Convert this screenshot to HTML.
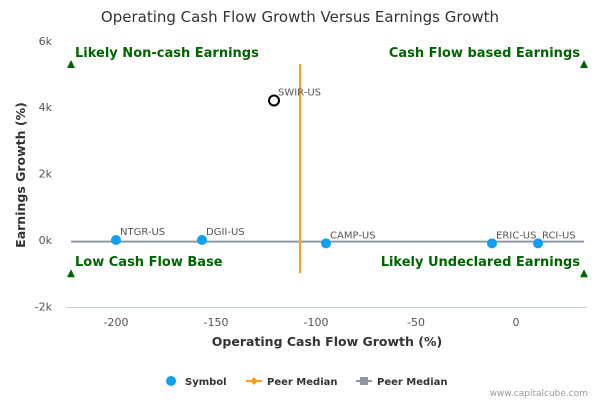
<!DOCTYPE html>
<html><head><meta charset="utf-8"><style>
body{margin:0;background:#fff}
svg{font-family:"DejaVu Sans","Liberation Sans",sans-serif}
</style></head><body>
<svg id="c" width="600" height="400" xmlns="http://www.w3.org/2000/svg">
<text x="300" y="22" text-anchor="middle" font-size="15" fill="#333">Operating Cash Flow Growth Versus Earnings Growth</text>
<line x1="67" y1="307.5" x2="587" y2="307.5" stroke="#c0d0e0"/>
<g id="xt"></g><g id="yt"></g>
<text x="327" y="346" text-anchor="middle" font-size="12.5" font-weight="bold" fill="#333">Operating Cash Flow Growth (%)</text>
<text transform="translate(25,175) rotate(-90)" text-anchor="middle" font-size="12.5" font-weight="bold" fill="#333">Earnings Growth (%)</text>
<g id="plot"></g>
<g font-size="10" font-weight="bold" fill="#333">
<circle cx="171" cy="381" r="5" fill="#0fa0ef"/>
<text x="185" y="385">Symbol</text>
<line x1="246" y1="381" x2="262" y2="381" stroke="#f7a020" stroke-width="2"/>
<path d="M254 377 L258 381 L254 385 L250 381Z" fill="#f7a020"/>
<text x="267" y="385">Peer Median</text>
<line x1="356" y1="381" x2="372" y2="381" stroke="#8f96a3" stroke-width="2"/>
<rect x="360" y="377" width="8" height="8" fill="#8f96a3"/>
<text x="377" y="385">Peer Median</text>
</g>
<text x="588" y="396" text-anchor="end" font-size="9" fill="#999">www.capitalcube.com</text>
</svg>
<script>
const names=["NTGR-US","DGII-US","SWIR-US","CAMP-US","ERIC-US","RCI-US"];
const cashFlow=[-200,-157,-121,-95,-12,11];
const earnings=[0,0,4200,-100,-100,-100];
const xTicks=[-200,-150,-100,-50,0];
const yTicks=[-2000,0,2000,4000,6000];
const yTickLabels=["-2k","0k","2k","4k","6k"];
const medianX=-108, medianY=-50;
const xMin=-222.5,xMax=34;
const quadrants=["Likely Non-cash Earnings","Cash Flow based Earnings","Low Cash Flow Base","Likely Undeclared Earnings"];
const quadY=[5300,-1000];
const X=v=>516+2*v, Y=v=>240-v*0.0332;
const NS="http://www.w3.org/2000/svg";
function mk(p,t,a){const e=document.createElementNS(NS,t);for(const k in a)e.setAttribute(k,a[k]);p.appendChild(e);return e;}
const xt=document.getElementById('xt'),yt=document.getElementById('yt'),pl=document.getElementById('plot');
xTicks.forEach(v=>{const t=mk(xt,'text',{x:X(v),y:326,'text-anchor':'middle','font-size':11,fill:'#555'});t.textContent=v;

});
yTicks.forEach((v,i)=>{const t=mk(yt,'text',{x:52,y:Y(v)+4,'text-anchor':'end','font-size':11,fill:'#555'});t.textContent=yTickLabels[i];

});
const hl=mk(pl,'line',{x1:X(xMin),x2:X(xMax),y1:Y(medianY),y2:Y(medianY),stroke:'#8f96a3','stroke-width':2});


const vl=mk(pl,'line',{x1:X(medianX),x2:X(medianX),y1:Y(quadY[0]),y2:Y(quadY[1]),stroke:'#f7a020','stroke-width':2});


[[xMin,quadY[0],'start'],[xMax,quadY[0],'end'],[xMin,quadY[1],'start'],[xMax,quadY[1],'end']].forEach((q,i)=>{
const x=X(q[0]),y=Y(q[1]);
const tr=mk(pl,'path',{d:`M${x} ${y-4} L${x+4} ${y+4} L${x-4} ${y+4}Z`,fill:'#006400'});


const t=mk(pl,'text',{x:q[2]=='start'?x+4:x-4,y:y-7,'text-anchor':q[2],'font-size':13,'font-weight':'bold',fill:'#006400'});
t.textContent=quadrants[i];

});
names.forEach((n,i)=>{const x=X(cashFlow[i]),y=Y(earnings[i]);
const c=n==="SWIR-US"?mk(pl,'circle',{cx:x,cy:y,r:5,fill:'#fff',stroke:'#000','stroke-width':2}):mk(pl,'circle',{cx:x,cy:y,r:5,fill:'#0fa0ef'});


const t=mk(pl,'text',{x:x+4,y:y-5,'font-size':10,fill:'#555'});t.textContent=n;

});
</script>
</body></html>
